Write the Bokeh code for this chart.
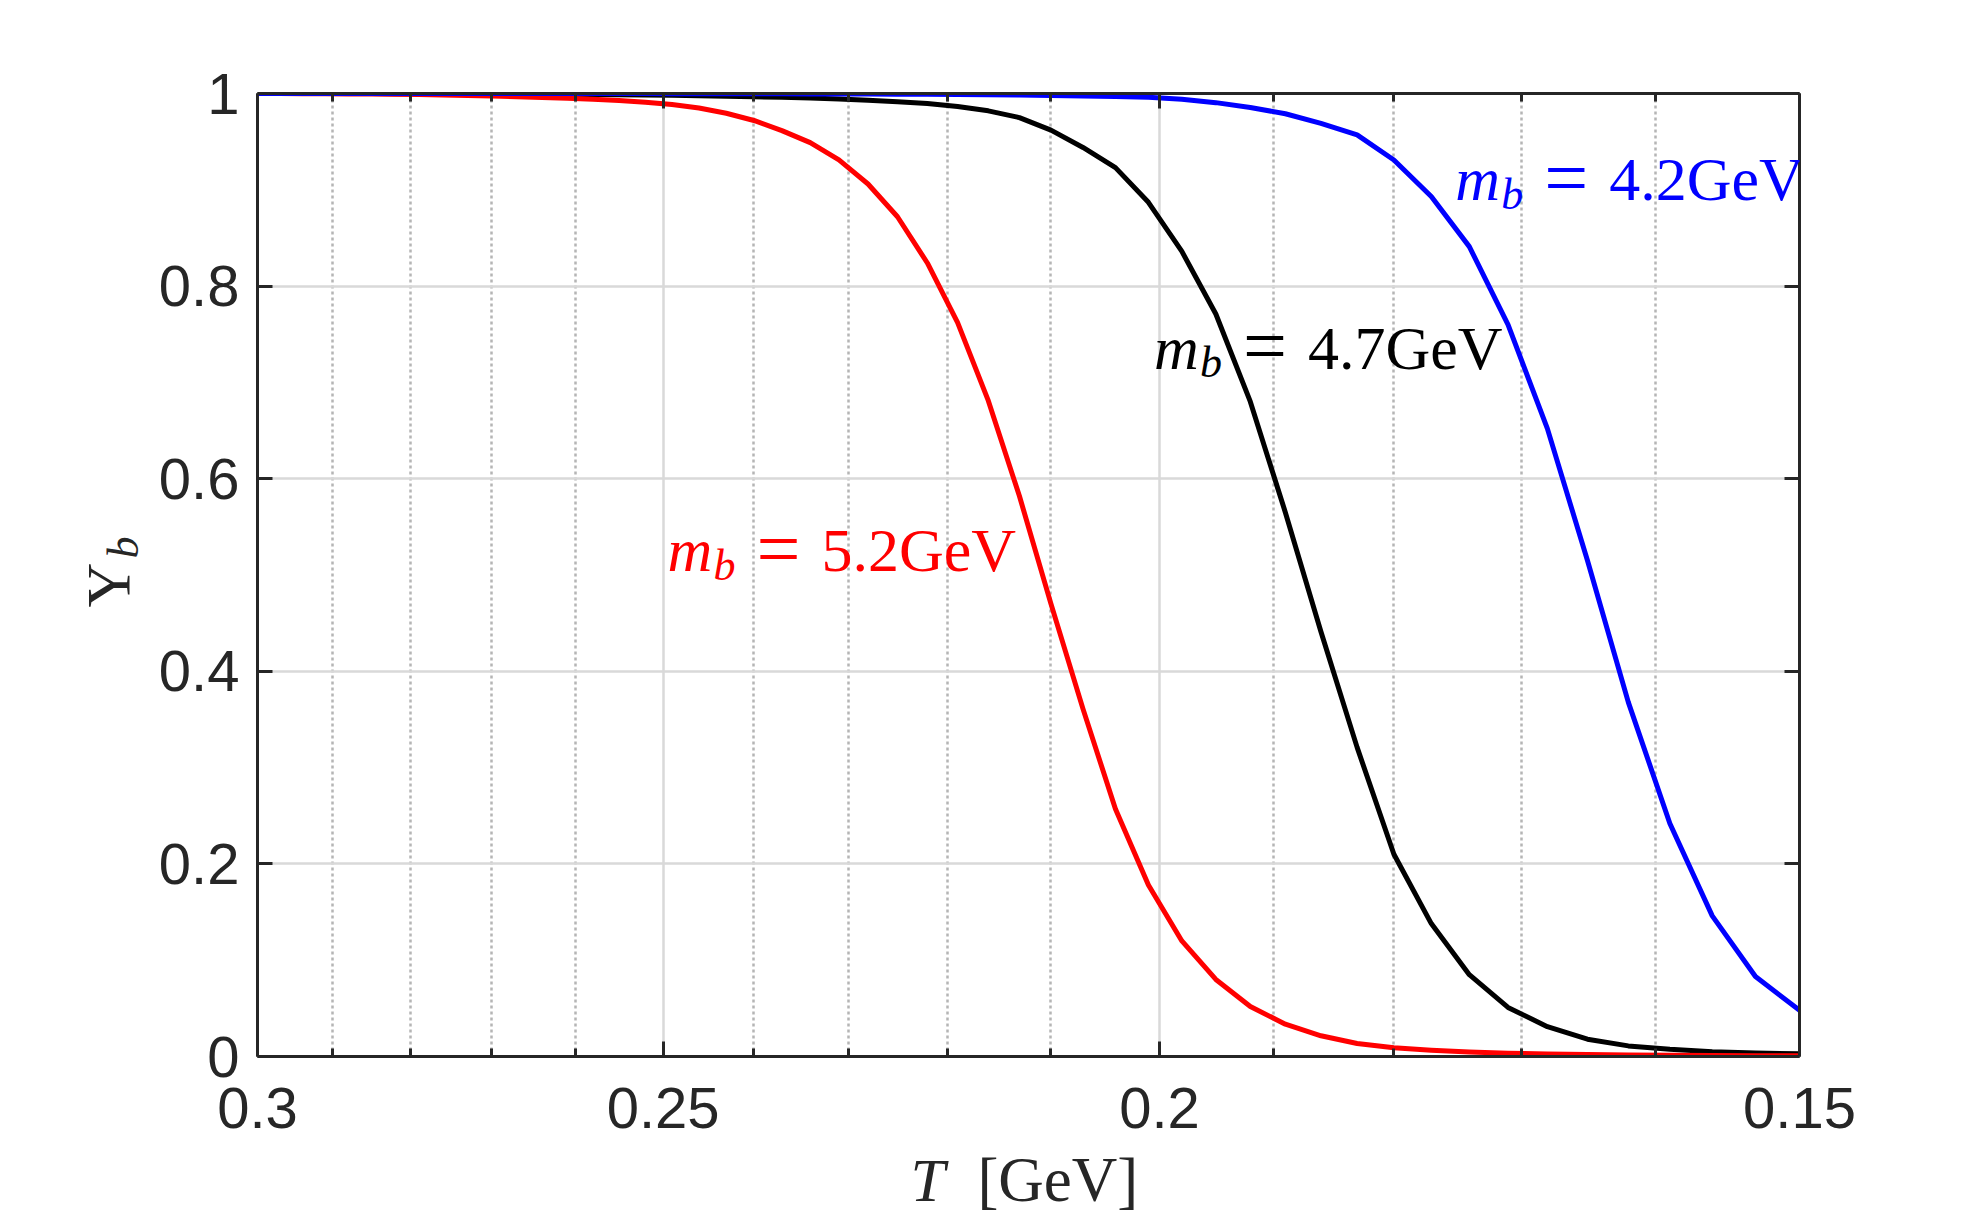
import math
from bokeh.plotting import figure
from bokeh.layouts import row, column
from bokeh.models import (Range1d, FixedTicker, LogAxis, LinearAxis, LogScale,
                          CustomJSTickFormatter, Label, ColumnDataSource)
from bokeh.core.properties import value
from bokeh.embed import file_html
from bokeh.resources import INLINE

# ---------------- data ----------------
T = [0.300, 0.297, 0.294, 0.291, 0.288, 0.285, 0.282, 0.279, 0.276, 0.273,
     0.270, 0.267, 0.264, 0.261, 0.258, 0.255, 0.252, 0.249, 0.246, 0.243,
     0.240, 0.237, 0.234, 0.231, 0.228, 0.225, 0.222, 0.219, 0.216, 0.213,
     0.210, 0.207, 0.204, 0.201, 0.198, 0.195, 0.192, 0.189, 0.186, 0.183,
     0.180, 0.177, 0.174, 0.171, 0.168, 0.165, 0.162, 0.159, 0.156, 0.153,
     0.150]

ups_m52 = [0.9999, 0.9999, 0.9998, 0.9997, 0.9996, 0.9994, 0.9992, 0.9989, 0.9985, 0.9980,
           0.9974, 0.9967, 0.9959, 0.9950, 0.9940, 0.9927, 0.9910, 0.9885, 0.9850, 0.9795,
           0.9720, 0.9615, 0.9490, 0.9310, 0.9060, 0.8720, 0.8240, 0.7620, 0.6810, 0.5820,
           0.4700, 0.3610, 0.2570, 0.1780, 0.1200, 0.0800, 0.0520, 0.0335, 0.0215, 0.0135,
           0.0090, 0.0065, 0.0048, 0.0035, 0.0026, 0.0020, 0.0016, 0.0013, 0.0011, 0.0009,
           0.0008]

ups_m47 = [1.0000, 1.0000, 1.0000, 0.9999, 0.9999, 0.9999, 0.9998, 0.9998, 0.9997, 0.9996,
           0.9995, 0.9994, 0.9993, 0.9991, 0.9989, 0.9987, 0.9984, 0.9981, 0.9977, 0.9972,
           0.9966, 0.9960, 0.9952, 0.9942, 0.9930, 0.9915, 0.9895, 0.9865, 0.9820, 0.9750,
           0.9620, 0.9440, 0.9230, 0.8870, 0.8360, 0.7710, 0.6800, 0.5650, 0.4410, 0.3210,
           0.2100, 0.1380, 0.0850, 0.0510, 0.0310, 0.0180, 0.0110, 0.0075, 0.0050, 0.0036,
           0.0028]

ups_m42 = [1.0000, 1.0000, 1.0000, 1.0000, 1.0000, 1.0000, 1.0000, 1.0000, 1.0000, 1.0000,
           1.0000, 1.0000, 1.0000, 0.9999, 0.9999, 0.9999, 0.9999, 0.9998, 0.9998, 0.9998,
           0.9997, 0.9997, 0.9996, 0.9995, 0.9994, 0.9993, 0.9992, 0.9990, 0.9988, 0.9985,
           0.9980, 0.9975, 0.9968, 0.9960, 0.9940, 0.9905, 0.9855, 0.9790, 0.9690, 0.9570,
           0.9310, 0.8930, 0.8410, 0.7600, 0.6520, 0.5150, 0.3680, 0.2420, 0.1460, 0.0830,
           0.0480]

x_major_ticks = [0.15, 0.2, 0.25, 0.3]
x_minor_ticks = [0.16, 0.17, 0.18, 0.19, 0.21, 0.22, 0.23, 0.24, 0.26, 0.27, 0.28, 0.29]
y_ticks = [0, 0.2, 0.4, 0.6, 0.8, 1]

mass_labels = ["5.2GeV", "4.7GeV", "4.2GeV"]
x_title_var = "T"
x_title_unit = "[GeV]"
y_title_main = "\u03a5"
y_title_sub = "b"

# ---------------- styling ----------------
AX = "#262626"
TICK_FONT = "Liberation Sans"
SERIF = "Liberation Serif"

LEFT_W = 150
MAIN_W = 1834
MAIN_H = 1145
BOT_H = 77
TOT_H = MAIN_H + BOT_H
BORDER_L = 107
BORDER_R = 185

x_rng = Range1d(0.3, 0.15)

p = figure(width=MAIN_W, height=MAIN_H, x_axis_type="log",
           x_range=x_rng, y_range=Range1d(0, 1),
           output_backend="svg", toolbar_location=None,
           min_border_left=BORDER_L, min_border_right=BORDER_R,
           min_border_top=93, min_border_bottom=89)
p.outline_line_color = None
p.background_fill_color = "white"
p.border_fill_color = "white"

bottom_axis = p.below[0]
left_axis = p.left[0]

xt = FixedTicker(ticks=x_major_ticks, minor_ticks=x_minor_ticks)
yt = FixedTicker(ticks=y_ticks, minor_ticks=[])
fmt = CustomJSTickFormatter(code="return tick.toString();")
blank = CustomJSTickFormatter(code="return '';")

bottom_axis.ticker = xt
left_axis.ticker = yt
bottom_axis.formatter = fmt
left_axis.formatter = fmt
p.xgrid.ticker = xt
p.ygrid.ticker = yt

for g in (p.xgrid, p.ygrid):
    g.grid_line_color = "#d9d9d9"
    g.grid_line_width = 2.5
p.xgrid.minor_grid_line_color = "#b5b5b5"
p.xgrid.minor_grid_line_width = 2.5
p.xgrid.minor_grid_line_dash = "3 3"

top_axis = LogAxis(ticker=xt, formatter=blank)
right_axis = LinearAxis(ticker=yt, formatter=blank)
p.add_layout(top_axis, "above")
p.add_layout(right_axis, "right")

for ax in [bottom_axis, top_axis]:
    ax.major_tick_in = 15
    ax.major_tick_out = 0
    ax.minor_tick_in = 8
    ax.minor_tick_out = 0
for ax in [left_axis, right_axis]:
    ax.major_tick_in = 15
    ax.major_tick_out = 0
    ax.minor_tick_in = 0
    ax.minor_tick_out = 0

for ax in [bottom_axis, top_axis, left_axis, right_axis]:
    ax.axis_line_color = AX
    ax.axis_line_width = 3
    ax.major_tick_line_color = AX
    ax.major_tick_line_width = 3
    ax.minor_tick_line_color = AX
    ax.minor_tick_line_width = 3
    ax.major_label_text_font = TICK_FONT
    ax.major_label_text_font_size = "58px"
    ax.major_label_text_color = AX
    ax.axis_label = None

top_axis.major_label_text_font_size = "0px"
right_axis.major_label_text_font_size = "0px"
top_axis.major_label_standoff = 0
right_axis.major_label_standoff = 0
bottom_axis.major_label_standoff = 31
left_axis.major_label_standoff = 18

# ---------------- curves ----------------
src = ColumnDataSource(dict(T=T, m52=ups_m52, m47=ups_m47, m42=ups_m42))
p.line("T", "m47", source=src, line_color="#000000", line_width=5, line_join="round")
p.line("T", "m52", source=src, line_color="#ff0000", line_width=5, line_join="round")
p.line("T", "m42", source=src, line_color="#0000ff", line_width=5, line_join="round")

# ---------------- curve annotations ----------------
anchors = [(0.2495, 0.504, "#ff0000"), (0.2005, 0.714, "#000000"), (0.1751, 0.889, "#0000ff")]
for (ax_T, ax_v, col), txt in zip(anchors, mass_labels):
    p.add_layout(Label(x=ax_T, y=ax_v, y_offset=21, text="m", text_font=SERIF,
                       text_font_style="italic", text_font_size="62px", text_color=col,
                       text_baseline="middle", text_align="left"))
    p.add_layout(Label(x=ax_T, y=ax_v, x_offset=46, y_offset=6, text="b", text_font=SERIF,
                       text_font_style="italic", text_font_size="44px", text_color=col,
                       text_baseline="middle", text_align="left"))
    p.add_layout(Label(x=ax_T, y=ax_v, x_offset=111, y_offset=23, text="=", text_font=SERIF,
                       text_font_size="78px", text_color=col, text_baseline="middle",
                       text_align="center"))
    p.add_layout(Label(x=ax_T, y=ax_v, x_offset=154, y_offset=21, text=txt, text_font=SERIF,
                       text_font_size="62px", text_color=col, text_baseline="middle",
                       text_align="left"))

# ---------------- x-axis title strip (shares the log T scale) ----------------
pb = figure(width=MAIN_W, height=BOT_H, x_axis_type=None, y_axis_type=None,
            x_range=x_rng, y_range=Range1d(0, BOT_H),
            output_backend="svg", toolbar_location=None,
            min_border_left=BORDER_L, min_border_right=BORDER_R,
            min_border_top=0, min_border_bottom=0)
pb.x_scale = LogScale()
pb.outline_line_color = None
pb.border_fill_color = "white"
pb.background_fill_color = "white"
pb.text(x=[0.2237], y=[43], text=[x_title_var], text_font=value(SERIF),
        text_font_style="italic", text_font_size="62px", text_color=AX,
        text_baseline="middle", text_align="left")
pb.text(x=[0.2237], y=[43], x_offset=67, text=[x_title_unit], text_font=value(SERIF),
        text_font_size="63px", text_color=AX, text_baseline="middle", text_align="left")

# ---------------- y-axis title strip ----------------
pl = figure(width=LEFT_W, height=TOT_H, x_axis_type=None, y_axis_type=None,
            x_range=Range1d(0, LEFT_W), y_range=Range1d(0, TOT_H),
            output_backend="svg", toolbar_location=None,
            min_border_left=0, min_border_right=0, min_border_top=0, min_border_bottom=0)
pl.outline_line_color = None
pl.border_fill_color = "white"
pl.background_fill_color = "white"
pl.text(x=[107], y=[615], text=[y_title_main], angle=math.pi / 2, text_font=value(SERIF),
        text_font_size="62px", text_color=AX, text_baseline="middle", text_align="left")
pl.text(x=[123], y=[664], text=[y_title_sub], angle=math.pi / 2, text_font=value(SERIF),
        text_font_style="italic", text_font_size="44px", text_color=AX,
        text_baseline="middle", text_align="left")

layout = row(pl, column(p, pb, spacing=0), spacing=0)
open("out.html", "w").write(file_html(layout, INLINE))
